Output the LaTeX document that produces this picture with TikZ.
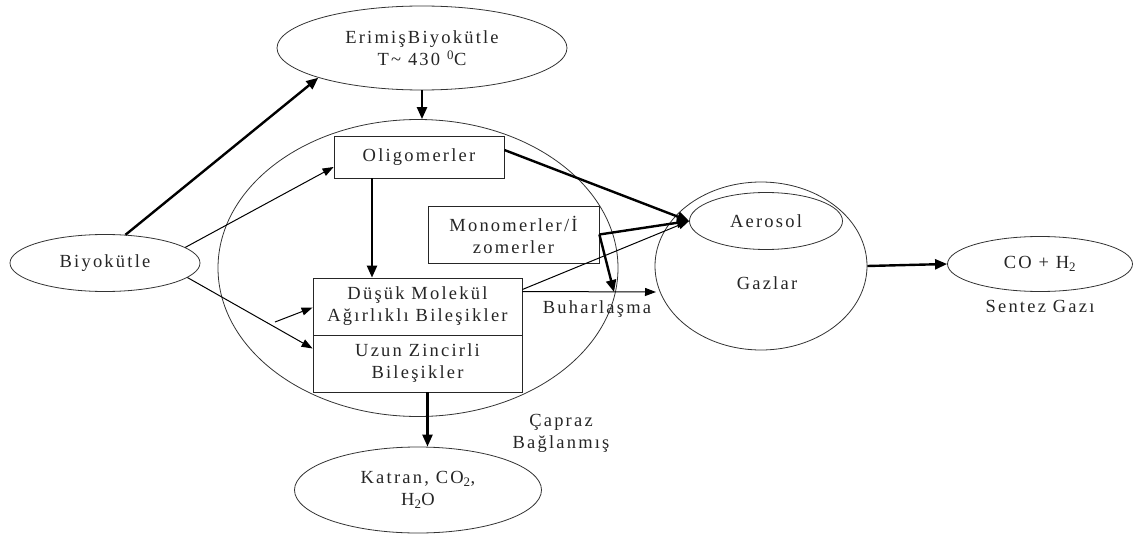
\documentclass[tikz,border=0pt]{standalone}
\usepackage{fontspec}
\setmainfont{Liberation Serif}[LetterSpace=12]
\usetikzlibrary{shapes.geometric,arrows.meta,calc}
\begin{document}
\begin{tikzpicture}[x=1pt,y=-1pt,
  every node/.style={font=\fontsize{18.5}{22}\selectfont, align=center, text=black!85},
  oval/.style={ellipse, draw=black!80, line width=0.8pt, inner sep=0pt, fill=white},
  ring/.style={ellipse, draw=black!80, line width=0.8pt, inner sep=0pt},
  box/.style={rectangle, draw=black!85, line width=0.8pt, inner sep=0pt, fill=white},
  label/.style={inner sep=0pt},
  heavyarrow/.style={line width=2.4pt, -{Triangle[length=12pt,width=10pt]}},
  lightarrow/.style={line width=1pt, -{Triangle[length=11pt,width=8pt]}}
]
\useasboundingbox (0,0) rectangle (1138,535);

% big containers
\node[ring, minimum width=400pt, minimum height=297pt] (big) at (418,268) {};
\node[ring, minimum width=212pt, minimum height=168pt] (gaz) at (761,266) {};

% ellipses
\node[oval, minimum width=290pt, minimum height=84pt] (erim) at (422,48) {ErimişBiyokütle\\T\textasciitilde{} 430 \textsuperscript{0}C};
\node[oval, minimum width=190pt, minimum height=57pt] (bio) at (105,263) {Biyokütle};
\node[oval, minimum width=247pt, minimum height=86pt] (kat) at (418,490) {Katran, CO\textsubscript{2},\\H\textsubscript{2}O};
\node[oval, minimum width=185pt, minimum height=55pt] (co) at (1040,264) {CO + H\textsubscript{2}};
\node[oval, minimum width=153pt, minimum height=57pt] (aer) at (766,221) {Aerosol};

% boxes
\node[box, minimum width=170pt, minimum height=42pt] (olig) at (419,157) {Oligomerler};
\node[box, minimum width=171pt, minimum height=57pt] (mono) at (513.5,234.5) {Monomerler/İ\\zomerler};
\node[box, minimum width=209pt, minimum height=57pt] (dusuk) at (417.5,306.5) {Düşük Molekül\\Ağırlıklı Bileşikler};
\node[box, minimum width=209pt, minimum height=57pt] (uzun) at (417.5,363.5) {Uzun Zincirli\\Bileşikler};

% labels
\node[label] (gazt) at (767,283) {Gazlar};
\node[label] (buh) at (597,309) {Buharlaşma};
\node[label] (sentez) at (1040,306) {Sentez Gazı};
\node[label] (capraz) at (561,433) {Çapraz\\Bağlanmış};

% free ends
\coordinate (short) at (275,322);
\coordinate (mdown) at (614,292);
\coordinate (buhend) at (656,292);
\coordinate (olout) at ($(olig.south)+(-47,0)$);
\coordinate (uzout) at ($(uzun.south)+(10,0)$);

% connectors
\draw[heavyarrow] (bio.54) -- (erim.196);
\draw[lightarrow] (bio.11) -- ($(olig.west)+(0,10)$);
\draw[lightarrow] (bio.-10) -- ($(uzun.west)+(0,-15)$);
\draw[lightarrow] (short) -- ($(dusuk.west)+(0,1)$);
\draw[heavyarrow] (erim.south) -- (erim.south |- big.north);
\draw[heavyarrow] (olout) -- (olout |- dusuk.north);
\draw[heavyarrow] ($(olig.east)+(0,-7)$) -- (aer.west);
\draw[heavyarrow] (mono.east) -- (aer.west);
\draw[heavyarrow] (mono.east) -- (mdown);
\draw[lightarrow] ($(dusuk.east)+(0,-17)$) -- (aer.west);
\draw[lightarrow] ($(dusuk.east)+(0,-15)$) -- (buhend);
\draw[heavyarrow] (uzout) -- (uzout |- kat.north);
\draw[heavyarrow] (gaz.east) -- (co.west);
\end{tikzpicture}
\end{document}
